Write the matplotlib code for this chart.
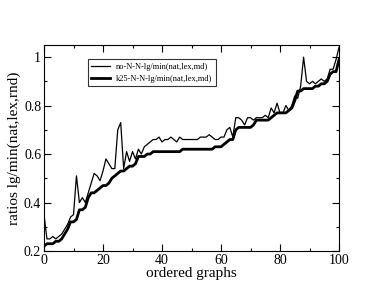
import matplotlib
matplotlib.use("Agg")
import matplotlib.pyplot as plt
from matplotlib.ticker import MultipleLocator

plt.rcParams["font.family"] = ["Liberation Serif", "DejaVu Serif"]

# ordered graph index 0..100
x = list(range(101))

no_nn = [0.35, 0.25, 0.25, 0.26, 0.25, 0.26, 0.27, 0.29, 0.31, 0.34,
         0.35, 0.51, 0.40, 0.42, 0.40, 0.44, 0.48, 0.52, 0.51, 0.49,
         0.53, 0.58, 0.56, 0.54, 0.54, 0.70, 0.73, 0.54, 0.61, 0.57,
         0.61, 0.58, 0.62, 0.60, 0.63, 0.64, 0.65, 0.66, 0.66, 0.67,
         0.65, 0.66, 0.66, 0.67, 0.66, 0.65, 0.67, 0.66, 0.66, 0.66,
         0.66, 0.66, 0.66, 0.67, 0.67, 0.67, 0.68, 0.67, 0.66, 0.66,
         0.67, 0.67, 0.70, 0.71, 0.67, 0.75, 0.75, 0.74, 0.72, 0.75,
         0.75, 0.74, 0.75, 0.75, 0.75, 0.76, 0.75, 0.79, 0.77, 0.81,
         0.77, 0.77, 0.80, 0.78, 0.80, 0.84, 0.83, 0.88, 1.00, 0.90,
         0.89, 0.90, 0.89, 0.90, 0.91, 0.90, 0.91, 0.95, 0.95, 0.99,
         1.04]

k25_nn = [0.22, 0.23, 0.23, 0.23, 0.24, 0.24, 0.25, 0.27, 0.29, 0.32,
          0.32, 0.33, 0.37, 0.37, 0.38, 0.42, 0.44, 0.44, 0.45, 0.46,
          0.47, 0.47, 0.48, 0.50, 0.51, 0.52, 0.53, 0.53, 0.54, 0.55,
          0.55, 0.56, 0.59, 0.59, 0.59, 0.60, 0.60, 0.61, 0.61, 0.61,
          0.61, 0.61, 0.61, 0.61, 0.61, 0.61, 0.61, 0.62, 0.62, 0.62,
          0.62, 0.62, 0.62, 0.62, 0.62, 0.62, 0.62, 0.62, 0.63, 0.63,
          0.63, 0.64, 0.65, 0.66, 0.66, 0.70, 0.71, 0.71, 0.71, 0.71,
          0.71, 0.72, 0.74, 0.74, 0.74, 0.74, 0.74, 0.75, 0.76, 0.77,
          0.77, 0.77, 0.77, 0.78, 0.79, 0.82, 0.86, 0.86, 0.87, 0.87,
          0.87, 0.87, 0.88, 0.88, 0.89, 0.89, 0.90, 0.93, 0.94, 0.94,
          0.99]

labels = ["no-N-N-lg/min(nat,lex,md)", "k25-N-N-lg/min(nat,lex,md)"]

fig = plt.figure(figsize=(3.82, 2.95), dpi=100)
ax = fig.add_axes([44 / 382, 1 - 251 / 295, 295 / 382, 206 / 295])

ax.plot(x, no_nn, color="black", lw=0.9, label=labels[0])
ax.plot(x, k25_nn, color="black", lw=2.0, label=labels[1])

ax.set_xlim(0, 100)
ax.set_ylim(0.2, 1.05)
ax.xaxis.set_major_locator(MultipleLocator(20))
ax.xaxis.set_minor_locator(MultipleLocator(10))
ax.yaxis.set_major_locator(MultipleLocator(0.2))
ax.yaxis.set_minor_locator(MultipleLocator(0.1))
ax.set_xticks([0, 20, 40, 60, 80, 100])
ax.set_xticklabels(["0", "20", "40", "60", "80", "100"])
ax.set_yticks([0.2, 0.4, 0.6, 0.8, 1.0])
ax.set_yticklabels(["0.2", "0.4", "0.6", "0.8", "1"])
ax.tick_params(which="both", direction="in", top=True, right=True,
               labelsize=10, width=0.8)
ax.tick_params(which="major", length=5, pad=2)
ax.tick_params(which="minor", length=2.5)
for s in ax.spines.values():
    s.set_linewidth(0.8)

ax.set_xlabel("ordered graphs", fontsize=11, labelpad=0)
ax.set_ylabel("ratios lg/min(nat,lex,rnd)", fontsize=11, labelpad=2)

leg = ax.legend(loc="upper left", bbox_to_anchor=(0.149, 0.93), fontsize=6,
                frameon=True, fancybox=False, edgecolor="black",
                borderaxespad=0, handlelength=2.2, borderpad=0.4,
                labelspacing=0.5, handletextpad=0.8)
leg.get_frame().set_linewidth(0.8)

fig.savefig("out.png", dpi=100)
